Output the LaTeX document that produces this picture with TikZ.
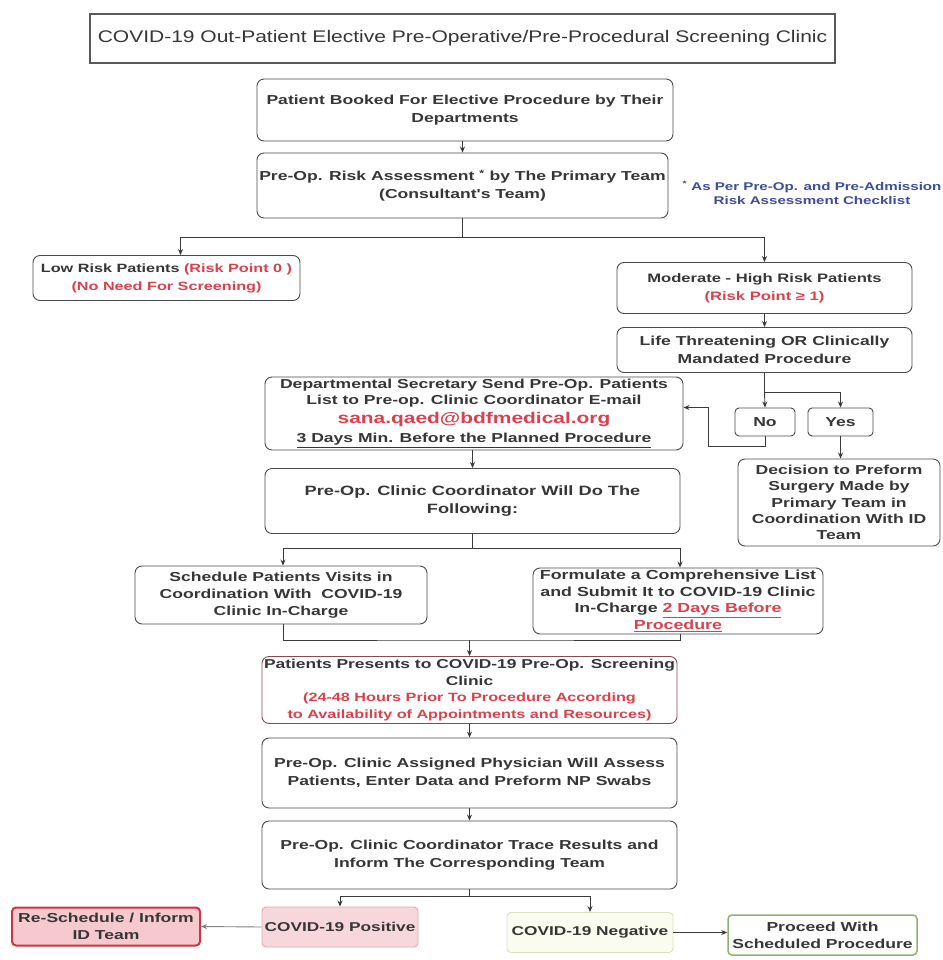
\documentclass[tikz,border=0pt]{standalone}
\usepackage{fontspec}
\setmainfont{Liberation Sans}
\newfontfamily\boxfont{Liberation Sans}[FakeStretch=1.35]
\newfontfamily\titlefont{Liberation Sans}[FakeStretch=1.25]
\usetikzlibrary{arrows.meta}
\definecolor{textcol}{HTML}{363636}
\definecolor{redtext}{HTML}{D9414E}
\definecolor{bluetext}{HTML}{3D4C9B}
\definecolor{bordercol}{HTML}{4A4A4A}
\definecolor{linecol}{HTML}{3A3A3A}
\definecolor{presborder}{HTML}{8A4A55}
\definecolor{reschborder}{HTML}{D03545}
\definecolor{reschfill}{HTML}{F5C9CE}
\definecolor{posfill}{HTML}{F8D7DC}
\definecolor{posborder}{HTML}{E4A7B0}
\definecolor{negfill}{HTML}{FAFCF0}
\definecolor{negborder}{HTML}{D8E2C2}
\definecolor{procborder}{HTML}{8DB56A}
\tikzset{
  box/.style={draw=bordercol, line width=0.9pt, rounded corners=7pt, fill=white,
    align=center, inner sep=0pt, text=textcol,
    font=\boxfont\bfseries\fontsize{13}{18}\selectfont},
  arr/.style={draw=linecol, line width=0.9pt, -{Stealth[length=6pt,width=5pt]}},
  ln/.style={draw=linecol, line width=0.9pt},
}
\begin{document}
\begin{tikzpicture}[x=1pt, y={(0pt,-1pt)}]
\useasboundingbox[fill=white] (0,0) rectangle (942,960);

% title
\node[draw=gray!70!black, line width=1.4pt, minimum width=745pt, minimum height=49pt,
  inner sep=0pt, text=textcol, font=\titlefont\fontsize{16.8}{18}\selectfont]
  (title) at (462.5,38.5) {COVID-19 Out-Patient Elective Pre-Operative/Pre-Procedural Screening Clinic};

\node[box, minimum width=416pt, minimum height=62pt] (b1) at (465,110)
  {Patient Booked For Elective Procedure by Their\\Departments};
\node[box, minimum width=411pt, minimum height=65pt] (b2) at (462.5,185.5)
  {Pre-Op. Risk Assessment \textsuperscript{*} by The Primary Team\\(Consultant's Team)};
\node[align=center, inner sep=0pt, text=bluetext, font=\boxfont\bfseries\fontsize{11.2}{14}\selectfont]
  (note) at (812,193) {\textsuperscript{*} As Per Pre-Op. and Pre-Admission\\Risk Assessment Checklist};

\node[box, minimum width=267pt, minimum height=45pt, font=\boxfont\bfseries\fontsize{12}{18}\selectfont]
  (low) at (166.5,278)
  {Low Risk Patients \textcolor{redtext}{(Risk Point 0 )}\\\textcolor{redtext}{(No Need For Screening)}};
\node[box, minimum width=295pt, minimum height=51pt, font=\boxfont\bfseries\fontsize{12.3}{18}\selectfont]
  (mod) at (764.5,288)
  {Moderate - High Risk Patients\\\textcolor{redtext}{(Risk Point ≥ 1)}};
\node[box, minimum width=295pt, minimum height=45pt] (life) at (764.5,350)
  {Life Threatening OR Clinically\\Mandated Procedure};
\node[box, rounded corners=4pt, minimum width=60pt, minimum height=28pt] (no) at (765,422) {No};
\node[box, rounded corners=4pt, minimum width=65pt, minimum height=28pt] (yes) at (840.5,422) {Yes};
\node[box, minimum width=202pt, minimum height=87pt, font=\boxfont\bfseries\fontsize{13}{16.3}\selectfont]
  (dec) at (839,502.5)
  {Decision to Preform\\Surgery Made by\\Primary Team in\\Coordination With ID\\Team};
\node[box, minimum width=418pt, minimum height=73pt] (dept) at (474,413.5)
  {Departmental Secretary Send Pre-Op. Patients\\[-2pt]
   List to Pre-op. Clinic Coordinator E-mail\\[1pt]
   {\color{redtext}\fontsize{15.5}{17}\selectfont sana.qaed@bdfmedical.org}\\[1pt]
   \underline{3 Days Min. Before the Planned Procedure}};
\node[box, minimum width=415pt, minimum height=65pt, font=\boxfont\bfseries\fontsize{13.5}{18}\selectfont]
  (coord) at (472.5,501)
  {Pre-Op. Clinic Coordinator Will Do The\\Following:};
\node[box, minimum width=292pt, minimum height=58pt, font=\boxfont\bfseries\fontsize{13}{17}\selectfont]
  (sched) at (281,595)
  {Schedule Patients Visits in\\Coordination With\ \ COVID-19\\Clinic In-Charge};
\node[box, minimum width=290pt, minimum height=66pt, font=\boxfont\bfseries\fontsize{13.2}{16.5}\selectfont]
  (form) at (678,601)
  {Formulate a Comprehensive List\\and Submit It to COVID-19 Clinic\\
   In-Charge \textcolor{redtext}{\underline{2 Days Before}}\\\textcolor{redtext}{\underline{Procedure}}};
\node[box, draw=presborder, minimum width=415pt, minimum height=67pt, font=\boxfont\bfseries\fontsize{12.9}{16.5}\selectfont]
  (pres) at (469.5,690)
  {Patients Presents to COVID-19 Pre-Op. Screening\\Clinic\\
   {\color{redtext}\fontsize{12}{16}\selectfont (24-48 Hours Prior To Procedure According}\\
   {\color{redtext}\fontsize{12}{16}\selectfont to Availability of Appointments and Resources)}};
\node[box, minimum width=415pt, minimum height=70pt] (assign) at (469.5,773)
  {Pre-Op. Clinic Assigned Physician Will Assess\\Patients, Enter Data and Preform NP Swabs};
\node[box, minimum width=415pt, minimum height=68pt] (trace) at (469.5,855)
  {Pre-Op. Clinic Coordinator Trace Results and\\Inform The Corresponding Team};

\node[box, draw=reschborder, fill=reschfill, line width=2pt, rounded corners=4pt,
  minimum width=188pt, minimum height=38pt, font=\boxfont\bfseries\fontsize{13}{16.5}\selectfont]
  (resch) at (106,926.5) {Re-Schedule / Inform\\ID Team};
\node[box, draw=posborder, fill=posfill, rounded corners=4pt, minimum width=156pt, minimum height=40pt,
  font=\boxfont\bfseries\fontsize{12.8}{16}\selectfont]
  (pos) at (340,927) {COVID-19 Positive};
\node[box, draw=negborder, fill=negfill, rounded corners=4pt, minimum width=166pt, minimum height=40pt,
  font=\boxfont\bfseries\fontsize{12.8}{16}\selectfont]
  (neg) at (590,932.5) {COVID-19 Negative};
\node[box, draw=procborder, line width=1.5pt, rounded corners=4pt, minimum width=189pt, minimum height=40pt,
  font=\boxfont\bfseries\fontsize{13}{17}\selectfont]
  (proc) at (822.5,935) {Proceed With\\Scheduled Procedure};

% connectors
\draw[arr] (b2.north |- b1.south) -- (b2.north);
\coordinate (j1) at (462.5,237);
\draw[ln] (b2.south) -- (j1);
\draw[arr] (j1) -| ([xshift=14pt]low.north);
\draw[arr] (j1) -| (mod.north);
\draw[arr] (mod.south) -- (life.north);
\coordinate (j2) at (764.5,392);
\draw[ln] (life.south) -- (j2);
\draw[arr] (j2) -- (no.north);
\draw[arr] (j2) -| (yes.north);
\draw[arr] (yes.south) -- (yes.south |- dec.north);
\coordinate (k) at (708,446);
\draw[arr] (no.south) |- (k) |- ([yshift=6pt]dept.east);
\draw[arr] (coord.north |- dept.south) -- (coord.north);
\coordinate (j3) at (472.5,548);
\draw[ln] (coord.south) -- (j3);
\draw[arr] (j3) -| ([xshift=2pt]sched.north);
\draw[arr] (j3) -| ([xshift=2pt]form.north);
\coordinate (j4) at (469.5,640);
\draw[ln] ([xshift=2pt]sched.south) |- (j4) -| ([xshift=2pt]form.south);
\draw[arr] (j4) -- (pres.north);
\draw[arr] (pres.south) -- (assign.north);
\draw[arr] (assign.south) -- (trace.north);
\coordinate (j5) at (469.5,896);
\draw[ln] (trace.south) -- (j5);
\draw[arr] (j5) -| (pos.north);
\draw[arr] (j5) -| (neg.north);
\draw[arr, draw=gray] (pos.west) -- (resch.east);
\draw[arr] (neg.east) -- (neg.east -| proc.west);
\end{tikzpicture}
\end{document}
